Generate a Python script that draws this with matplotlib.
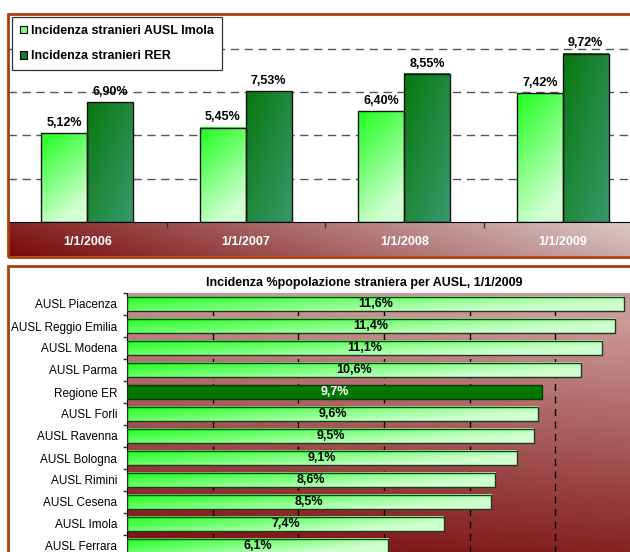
import numpy as np
import matplotlib
matplotlib.use('Agg')
import matplotlib.pyplot as plt
from matplotlib.patches import Rectangle, Patch
from matplotlib.colors import to_rgb

plt.rcParams['font.family'] = ['Liberation Sans', 'DejaVu Sans']

# dati grafico in alto
anni = ['1/1/2006', '1/1/2007', '1/1/2008', '1/1/2009']
imola = [5.12, 5.45, 6.40, 7.42]
rer = [6.90, 7.53, 8.55, 9.72]
serie = ['Incidenza stranieri AUSL Imola', 'Incidenza stranieri RER']

# dati grafico in basso
ausl = ['AUSL Piacenza', 'AUSL Reggio Emilia', 'AUSL Modena', 'AUSL Parma',
        'Regione ER', 'AUSL Forli', 'AUSL Ravenna', 'AUSL Bologna',
        'AUSL Rimini', 'AUSL Cesena', 'AUSL Imola', 'AUSL Ferrara']
incidenza = [11.6, 11.4, 11.1, 10.6, 9.7, 9.6, 9.5, 9.1, 8.6, 8.5, 7.4, 6.1]
titolo2 = 'Incidenza %popolazione straniera per AUSL, 1/1/2009'

W, H = 630, 552
fig = plt.figure(figsize=(6.3, 5.52), dpi=100)
fig.patch.set_facecolor('white')
BORDO = '#a8400e'


def box(x0, y0, x1, y1):
    # pixel (origine in alto a sinistra) -> coordinate figura
    return [x0 / W, 1 - y1 / H, (x1 - x0) / W, (y1 - y0) / H]


def grad(c1, c2, tfun, n=64):
    u, v = np.meshgrid(np.linspace(0, 1, n), np.linspace(0, 1, n))
    t = np.clip(tfun(u, v), 0, 1)[..., None]
    a = np.array(to_rgb(c1))
    b = np.array(to_rgb(c2))
    return a * (1 - t) + b * t


def fmt(v, d):
    return ('%.' + str(d) + 'f') % v


# ---- fascia asse x (gradiente rosso)
axb = fig.add_axes(box(8, 222, 642, 256))
axb.imshow(grad('#780a0a', '#ddcccc', lambda u, v: 0.85 * u + 0.15 * (1 - v)),
           extent=(0, 1, 0, 1), aspect='auto')
axb.axis('off')

# ---- grafico a colonne
ax1 = fig.add_axes(box(8, 14, 642, 222))
ax1.set_zorder(2)
ax1.patch.set_alpha(0)
for g in [2.5, 5, 7.5, 10]:
    ax1.axhline(g, color='#555555', lw=1, ls=(0, (6, 4)), zorder=1)

bw = 0.29
chiaro = grad('#1eff1e', '#d2ffd2', lambda u, v: 0.35 * u + 0.85 * v)
scuro = grad('#08780f', '#38996c', lambda u, v: 0.5 * u + 0.5 * v)
for i in range(len(anni)):
    for x0, v, img in [(i - bw, imola[i], chiaro), (i, rer[i], scuro)]:
        ax1.imshow(img, extent=(x0, x0 + bw, 0, v), origin='upper',
                   aspect='auto', zorder=2)
        ax1.add_patch(Rectangle((x0, 0), bw, v, fill=False, ec='#111111', lw=1, zorder=3))
        ax1.annotate(fmt(v, 2).replace('.', ',') + '%', (x0 + bw / 2, v),
                     xytext=(0, 3), textcoords='offset points', ha='center',
                     va='bottom', fontsize=9, fontweight='bold', zorder=4)
ax1.set_xlim(-0.5, 3.5)
ax1.set_ylim(0, 12)
for s in ['top', 'left', 'right']:
    ax1.spines[s].set_visible(False)
ax1.spines['bottom'].set_color('black')
ax1.set_yticks([])
ax1.set_xticks([])
ax1.set_xticks([0.5, 1.5, 2.5], minor=True)
ax1.tick_params(axis='x', which='minor', length=4, width=1, color='#333333',
                labelbottom=False)

for i, a in enumerate(anni):
    fig.text((8 + (i + 0.5) * 158.5) / W, 1 - 242 / H, a, color='white',
             ha='center', va='center', fontsize=9, fontweight='bold', zorder=5)

leg = ax1.legend(handles=[Patch(fc='#7dff7d', ec='black', lw=0.8, label=serie[0]),
                          Patch(fc='#16792c', ec='black', lw=0.8, label=serie[1])],
                 loc='upper left', bbox_to_anchor=(12 / W, 1 - 17 / H),
                 bbox_transform=fig.transFigure, fancybox=False, framealpha=1,
                 edgecolor='#333333', prop={'weight': 'bold', 'size': 9},
                 handlelength=0.55, handleheight=0.55, handletextpad=0.35,
                 borderpad=0.65, labelspacing=1.05, borderaxespad=0)
leg.get_frame().set_linewidth(0.9)
leg.set_zorder(6)

# ---- grafico a barre orizzontali
ax2 = fig.add_axes(box(127, 293, 641, 557))
ax2.imshow(grad('#cc9a9a', '#780c0c', lambda u, v: 0.95 * v - 0.15 * u + 0.05),
           extent=(0, 12, len(ausl) - 0.5, -0.5), origin='upper', aspect='auto',
           zorder=0)
for g in [2, 4, 6, 8, 10]:
    ax2.axvline(g, color='black', lw=1, ls=(0, (5, 4)), zorder=1)

hh = 0.32
verde = grad('#1cff1c', '#d0ffd0', lambda u, v: 0.8 * u + 0.45 * v)
for i, v in enumerate(incidenza):
    if ausl[i] == 'Regione ER':
        ax2.add_patch(Rectangle((0, i - hh), v, 2 * hh, fc='#007800', ec='#0a3a0a',
                                lw=1, zorder=3))
        col = 'white'
    else:
        ax2.imshow(verde, extent=(0, v, i + hh, i - hh), origin='upper',
                   aspect='auto', zorder=2)
        ax2.add_patch(Rectangle((0, i - hh), v, 2 * hh, fill=False, ec='#1e3a1e',
                                lw=1, zorder=3))
        col = 'black'
    ax2.text(v / 2, i, fmt(v, 1).replace('.', ',') + '%', ha='center',
             va='center', fontsize=9, fontweight='bold', color=col, zorder=4)
ax2.set_xlim(0, 12)
ax2.set_ylim(len(ausl) - 0.5, -0.5)
ax2.set_xticks([])
ax2.set_yticks(range(len(ausl)))
ax2.set_yticklabels(ausl, fontsize=8.5)
ax2.set_yticks(np.arange(-0.5, len(ausl), 1), minor=True)
ax2.tick_params(axis='y', which='major', length=0, pad=7)
ax2.tick_params(axis='y', which='minor', length=3, width=1, color='#333333')
for s in ['top', 'right', 'bottom']:
    ax2.spines[s].set_visible(False)
ax2.spines['left'].set_color('black')

fig.text(364 / W, 1 - 283 / H, titolo2, ha='center', va='center', fontsize=9,
         fontweight='bold')

# cornici
fig.add_artist(Rectangle((8 / W, 1 - 257 / H), 700 / W, 243 / H, fill=False,
                         ec=BORDO, lw=2, transform=fig.transFigure, zorder=10))
fig.add_artist(Rectangle((8 / W, 1 - 700 / H), 700 / W, (700 - 266) / H, fill=False,
                         ec=BORDO, lw=2, transform=fig.transFigure, zorder=10))

fig.savefig('out.png', dpi=100)
